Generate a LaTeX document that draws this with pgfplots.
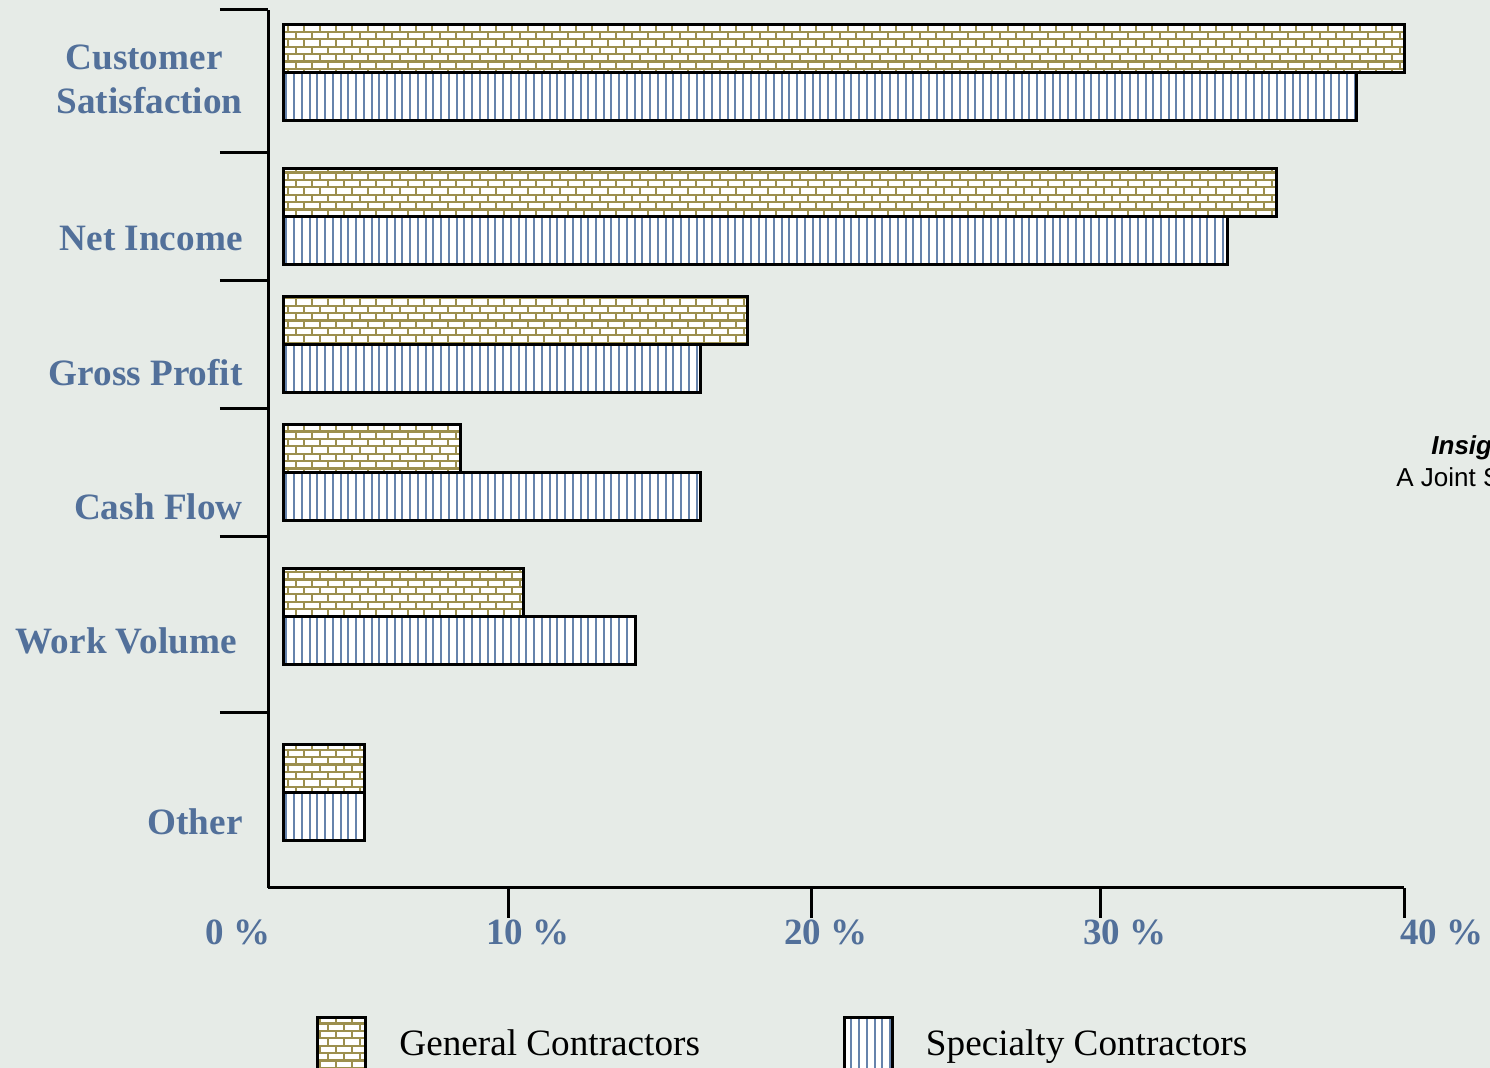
\documentclass[border=0pt]{standalone}
\usepackage{pgfplots}
\pgfplotsset{compat=1.18}
\usetikzlibrary{patterns}
\usepackage{fontspec}
\setmainfont{Liberation Serif}
\setsansfont{Liberation Sans}
\definecolor{bg}{HTML}{E6EBE7}
\definecolor{lblue}{HTML}{52709A}
\definecolor{brickcol}{HTML}{9C8F4E}
\definecolor{linecol}{HTML}{6683AC}
\pgfdeclarepatternformonly{mybricks}{\pgfpoint{-1pt}{-1pt}}{\pgfpoint{9pt}{8.4pt}}{\pgfpoint{8pt}{7.4pt}}{%
  \pgfsetlinewidth{1.1pt}%
  \pgfpathmoveto{\pgfpoint{-0.5pt}{0pt}}\pgfpathlineto{\pgfpoint{8.5pt}{0pt}}%
  \pgfpathmoveto{\pgfpoint{-0.5pt}{3.7pt}}\pgfpathlineto{\pgfpoint{8.5pt}{3.7pt}}%
  \pgfpathmoveto{\pgfpoint{0pt}{0pt}}\pgfpathlineto{\pgfpoint{0pt}{3.7pt}}%
  \pgfpathmoveto{\pgfpoint{4pt}{3.7pt}}\pgfpathlineto{\pgfpoint{4pt}{7.4pt}}%
  \pgfusepath{stroke}}
\pgfdeclarepatternformonly{myvlines}{\pgfpoint{-1pt}{-0.5pt}}{\pgfpoint{1pt}{1.5pt}}{\pgfpoint{3.87pt}{1pt}}{%
  \pgfsetlinewidth{1pt}%
  \pgfpathmoveto{\pgfpoint{0pt}{-0.5pt}}\pgfpathlineto{\pgfpoint{0pt}{1.5pt}}%
  \pgfusepath{stroke}}
\tikzset{
  gcstyle/.style={draw=black, line width=1.5pt, preaction={fill=white}, pattern=mybricks, pattern color=brickcol},
  scstyle/.style={draw=black, line width=1.5pt, preaction={fill=white}, pattern=myvlines, pattern color=linecol},
}
\begin{document}
\begin{tikzpicture}
\path[use as bounding box] (0,0) rectangle (745pt,-534pt);
\clip (0,0) rectangle (745pt,-534pt);
\fill[bg] (0,0) rectangle (745pt,-534pt);
\begin{axis}[
  at={(134pt,-444pt)}, anchor=south west,
  scale only axis, width=568pt, height=439pt,
  xmin=-0.5714, xmax=40, ymin=0, ymax=878,
  axis lines*=left,
  axis line style={line width=1.5pt, black},
  xbar, bar shift=0pt, bar width=48,
  tick align=outside,
  major tick length=15pt,
  every tick/.style={black, line width=1.5pt},
  xtick={8,18.857,29.143,40},
  xticklabels={\kern20pt10 \%,\kern14pt20 \%,\kern25pt30 \%,\kern38pt40 \%},
  xticklabel style={anchor=base, inner sep=0pt, yshift=-13pt, font=\bfseries\fontsize{18.5}{22}\selectfont, text=lblue},
  extra x ticks={-0.5714},
  extra x tick labels={0 \%},
  extra x tick style={major tick length=0pt, xticklabel style={xshift=-15pt, yshift=-15pt}},
  ytick={818,774,637,502,368,234,54},
  yticklabels={Customer\kern10pt,Satisfaction,Net Income,Gross Profit,Cash Flow,Work Volume\kern3pt,Other},
  ytick style={draw=none},
  yticklabel style={anchor=base east, inner sep=0pt, xshift=2.5pt, font=\bfseries\fontsize{18.6}{22}\selectfont, text=lblue},
  extra y ticks={878,735,607,479,351,175},
  extra y tick labels={},
  extra y tick style={major tick length=24pt, ytick style={draw=black}},
  legend columns=2,
  legend style={at={(0.04225,-0.1788)}, anchor=west, draw=none, fill=none, inner sep=0pt,
    font=\fontsize{18.6}{22}\selectfont,
    /tikz/every even column/.append style={column sep=69.5pt},
    /tikz/every odd column/.append style={column sep=14pt}},
  clip=false,
]
\addplot[gcstyle, legend image code/.code={\draw[gcstyle] (0pt,-14pt) rectangle (24pt,13.5pt);}]
  coordinates {(40,839) (35.43,695) (16.57,567) (6.29,439) (8.57,295) (2.86,119)};
\addlegendentry{General Contractors}
\addplot[scstyle, legend image code/.code={\draw[scstyle] (0pt,-14pt) rectangle (24pt,13.5pt);}]
  coordinates {(38.29,791) (33.71,647) (14.86,519) (14.86,391) (12.57,247) (2.86,71)};
\addlegendentry{Specialty Contractors}
\end{axis}
\node[anchor=base west, inner sep=0pt, font=\sffamily\bfseries\itshape\fontsize{13}{15}\selectfont] at (715.5pt,-227.5pt) {Insights};
\node[anchor=base west, inner sep=0pt, font=\sffamily\fontsize{13}{15}\selectfont] at (698pt,-243.5pt) {A Joint Survey};
\end{tikzpicture}
\end{document}
